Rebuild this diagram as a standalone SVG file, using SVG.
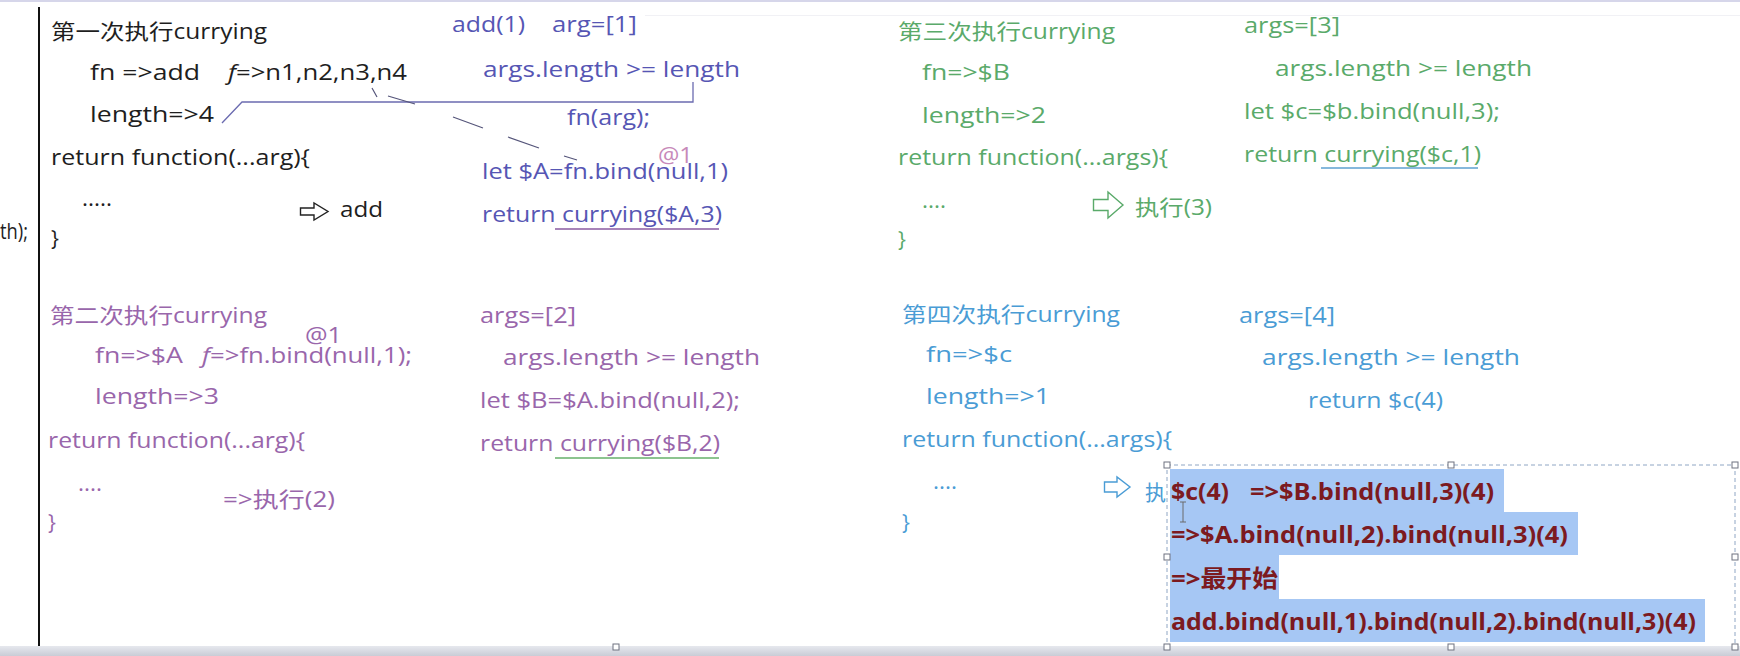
<svg xmlns="http://www.w3.org/2000/svg" width="1740" height="656" viewBox="0 0 1740 656">
<style>
text{font-family:"Open Sans","Noto Sans CJK SC",sans-serif;font-size:21px}
.k{fill:#1e1e1e}
.b1{fill:#5656b4}
.p{fill:#9966ab}
.g{fill:#5aaa6a}
.c{fill:#4a9cd5}
.r{fill:#7c1a20;font-weight:bold;font-size:24px}
.at{fill:#c27cb2;opacity:.9}
.hl{fill:#a6c7f4}
.hd{fill:#fff;stroke:#6f7280;stroke-width:1}
.arr{fill:#fff;stroke-width:1.4;stroke-linejoin:miter}
</style>
<defs>
<linearGradient id="bar" x1="0" y1="0" x2="0" y2="1">
<stop offset="0" stop-color="#e6e8ee"/>
<stop offset="1" stop-color="#c9ccd6"/>
</linearGradient>
</defs>
<rect x="0" y="0" width="1740" height="656" fill="#ffffff"/>
<rect x="0" y="0" width="1740" height="2" fill="#d6d6ea"/>
<line x1="645" y1="15.5" x2="1740" y2="15.5" stroke="#f1f1f5" stroke-width="1"/>
<line x1="39" y1="7" x2="39" y2="647" stroke="#111" stroke-width="2"/>
<text x="0" y="239" class="k" textLength="28" lengthAdjust="spacingAndGlyphs">th);</text>

<g id="connectors" fill="none">
<polyline points="222,123 242,102 693,102 693,82" stroke="#6b6bb0" stroke-width="1.3"/>
<path d="M372,88 L377,97 M388,96 L415,104 M453,117 L483,128 M508,137 L539,148 M564,156 L577,160" stroke="#55557a" stroke-width="1.2"/>
</g>

<g id="n1">
<text x="51" y="39" class="k" textLength="216" lengthAdjust="spacingAndGlyphs">第一次执行currying</text>
<text x="90" y="80" class="k" textLength="110" lengthAdjust="spacingAndGlyphs">fn =&gt;add</text>
<text x="228" y="80" class="k" textLength="179" lengthAdjust="spacingAndGlyphs"><tspan font-style="italic">f</tspan>=&gt;n1,n2,n3,n4</text>
<text x="90" y="122" class="k" textLength="124" lengthAdjust="spacingAndGlyphs">length=&gt;4</text>
<text x="51" y="165" class="k" textLength="259" lengthAdjust="spacingAndGlyphs">return function(...arg){</text>
<text x="82" y="206" class="k" textLength="30" lengthAdjust="spacingAndGlyphs">.....</text>
<path class="arr" stroke="#222" d="M300.5,208 H314 V203 L328,211.5 L314,220 V215 H300.5 Z"/>
<text x="340" y="217" class="k" textLength="43" lengthAdjust="spacingAndGlyphs">add</text>
<text x="51" y="246" class="k">}</text>
</g>

<g id="n1r">
<text x="452" y="32" class="b1" textLength="73" lengthAdjust="spacingAndGlyphs">add(1)</text>
<text x="552" y="32" class="b1" textLength="85" lengthAdjust="spacingAndGlyphs">arg=[1]</text>
<text x="483" y="77" class="b1" textLength="257" lengthAdjust="spacingAndGlyphs">args.length &gt;= length</text>
<text x="567" y="125" class="b1" textLength="83" lengthAdjust="spacingAndGlyphs">fn(arg);</text>
<text x="482" y="179" class="b1" textLength="246" lengthAdjust="spacingAndGlyphs">let $A=fn.bind(null,1)</text>
<text x="482" y="222" class="b1" textLength="240" lengthAdjust="spacingAndGlyphs">return currying($A,3)</text>
<line x1="555" y1="229" x2="719" y2="229" stroke="#8a5aa0" stroke-width="1.5"/>
<text x="658" y="163" class="at" textLength="35" lengthAdjust="spacingAndGlyphs">@1</text>
</g>

<g id="n2">
<text x="50" y="323" class="p" textLength="217" lengthAdjust="spacingAndGlyphs">第二次执行currying</text>
<text x="305" y="343" class="p" textLength="37" lengthAdjust="spacingAndGlyphs">@1</text>
<text x="95" y="363" class="p" textLength="88" lengthAdjust="spacingAndGlyphs">fn=&gt;$A</text>
<text x="202" y="363" class="p" textLength="210" lengthAdjust="spacingAndGlyphs"><tspan font-style="italic">f</tspan>=&gt;fn.bind(null,1);</text>
<text x="95" y="404" class="p" textLength="124" lengthAdjust="spacingAndGlyphs">length=&gt;3</text>
<text x="48" y="448" class="p" textLength="257" lengthAdjust="spacingAndGlyphs">return function(...arg){</text>
<text x="78" y="491" class="p" textLength="24" lengthAdjust="spacingAndGlyphs">....</text>
<text x="223" y="507" class="p" textLength="112" lengthAdjust="spacingAndGlyphs">=&gt;执行(2)</text>
<text x="48" y="530" class="p">}</text>
</g>

<g id="n2r">
<text x="480" y="323" class="p" textLength="96" lengthAdjust="spacingAndGlyphs">args=[2]</text>
<text x="503" y="365" class="p" textLength="257" lengthAdjust="spacingAndGlyphs">args.length &gt;= length</text>
<text x="480" y="408" class="p" textLength="260" lengthAdjust="spacingAndGlyphs">let $B=$A.bind(null,2);</text>
<text x="480" y="451" class="p" textLength="240" lengthAdjust="spacingAndGlyphs">return currying($B,2)</text>
<line x1="555" y1="458" x2="719" y2="458" stroke="#66b06a" stroke-width="1.5"/>
</g>

<g id="n3">
<text x="898" y="39" class="g" textLength="217" lengthAdjust="spacingAndGlyphs">第三次执行currying</text>
<text x="922" y="80" class="g" textLength="88" lengthAdjust="spacingAndGlyphs">fn=&gt;$B</text>
<text x="922" y="123" class="g" textLength="124" lengthAdjust="spacingAndGlyphs">length=&gt;2</text>
<text x="898" y="165" class="g" textLength="270" lengthAdjust="spacingAndGlyphs">return function(...args){</text>
<text x="922" y="208" class="g" textLength="24" lengthAdjust="spacingAndGlyphs">....</text>
<path class="arr" stroke="#5aaa6a" d="M1093.5,199.5 H1108 V192 L1123,205 L1108,218 V210.5 H1093.5 Z"/>
<text x="1135" y="215" class="g" textLength="77" lengthAdjust="spacingAndGlyphs">执行(3)</text>
<text x="898" y="247" class="g">}</text>
</g>

<g id="n3r">
<text x="1244" y="33" class="g" textLength="96" lengthAdjust="spacingAndGlyphs">args=[3]</text>
<text x="1275" y="76" class="g" textLength="257" lengthAdjust="spacingAndGlyphs">args.length &gt;= length</text>
<text x="1244" y="119" class="g" textLength="256" lengthAdjust="spacingAndGlyphs">let $c=$b.bind(null,3);</text>
<text x="1244" y="162" class="g" textLength="237" lengthAdjust="spacingAndGlyphs">return currying($c,1)</text>
<line x1="1321" y1="168" x2="1478" y2="168" stroke="#5ea0d0" stroke-width="1.5"/>
</g>

<g id="n4">
<text x="902" y="322" class="c" textLength="218" lengthAdjust="spacingAndGlyphs">第四次执行currying</text>
<text x="926" y="362" class="c" textLength="86" lengthAdjust="spacingAndGlyphs">fn=&gt;$c</text>
<text x="926" y="404" class="c" textLength="124" lengthAdjust="spacingAndGlyphs">length=&gt;1</text>
<text x="902" y="447" class="c" textLength="270" lengthAdjust="spacingAndGlyphs">return function(...args){</text>
<text x="933" y="489" class="c" textLength="24" lengthAdjust="spacingAndGlyphs">....</text>
<path class="arr" stroke="#4a9cd5" d="M1104.5,482 H1117 V477 L1130,487 L1117,497 V492 H1104.5 Z"/>
<text x="1145" y="500" class="c">执</text>
<text x="902" y="530" class="c">}</text>
</g>

<g id="n4r">
<text x="1239" y="323" class="c" textLength="96" lengthAdjust="spacingAndGlyphs">args=[4]</text>
<text x="1262" y="365" class="c" textLength="258" lengthAdjust="spacingAndGlyphs">args.length &gt;= length</text>
<text x="1308" y="408" class="c" textLength="135" lengthAdjust="spacingAndGlyphs">return $c(4)</text>
</g>

<g id="n5">
<rect x="1167" y="465" width="568" height="182" fill="#fff" stroke="#8fa6c4" stroke-width="1" stroke-dasharray="4,3"/>
<rect class="hl" x="1170" y="469" width="334" height="43"/>
<rect class="hl" x="1170" y="512" width="408" height="43"/>
<rect class="hl" x="1170" y="555" width="109" height="44"/>
<rect class="hl" x="1170" y="599" width="535" height="43"/>
<text x="1171" y="500" class="r" textLength="58" lengthAdjust="spacingAndGlyphs">$c(4)</text>
<text x="1250" y="500" class="r" textLength="244" lengthAdjust="spacingAndGlyphs">=&gt;$B.bind(null,3)(4)</text>
<text x="1171" y="543" class="r" textLength="397" lengthAdjust="spacingAndGlyphs">=&gt;$A.bind(null,2).bind(null,3)(4)</text>
<text x="1171" y="587" class="r" textLength="107" lengthAdjust="spacingAndGlyphs">=&gt;最开始</text>
<text x="1171" y="630" class="r" textLength="525" lengthAdjust="spacingAndGlyphs">add.bind(null,1).bind(null,2).bind(null,3)(4)</text>
<path d="M1180,502 H1186 M1183,502 V522 M1180,522 H1186" stroke="#6a6a6a" stroke-width="1" fill="none"/>
<rect class="hd" x="1164" y="462" width="6" height="6"/>
<rect class="hd" x="1448" y="462" width="6" height="6"/>
<rect class="hd" x="1732" y="462" width="6" height="6"/>
<rect class="hd" x="1164" y="554" width="6" height="6"/>
<rect class="hd" x="1732" y="554" width="6" height="6"/>
</g>

<rect x="0" y="646" width="1740" height="10" fill="url(#bar)"/>
<g id="handles">
<rect class="hd" x="1164" y="644" width="6" height="6"/>
<rect class="hd" x="1448" y="644" width="6" height="6"/>
<rect class="hd" x="1732" y="644" width="6" height="6"/>
<rect class="hd" x="613" y="644" width="6" height="6"/>
</g>
</svg>
